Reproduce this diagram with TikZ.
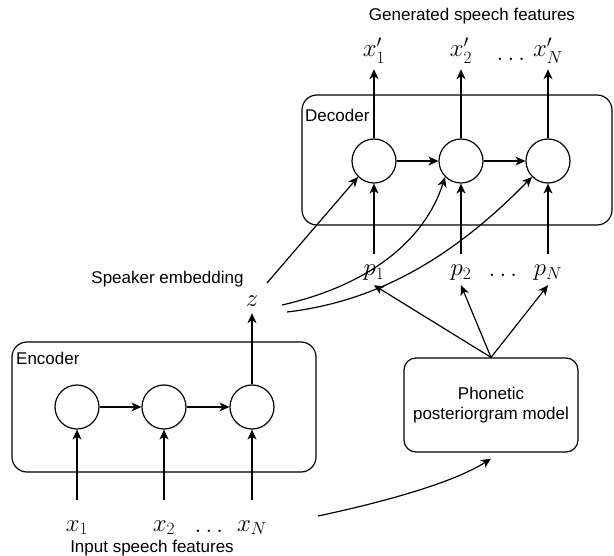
\documentclass[tikz,border=0pt]{standalone}
\usepackage[no-math]{fontspec}
\setmainfont{Liberation Sans}
\usetikzlibrary{arrows.meta}
\tikzset{
  arr/.style={-{Stealth[length=10pt,width=9pt,inset=3pt]}, line width=1.2pt},
  cell/.style={circle, draw, line width=1.2pt, minimum size=44pt, inner sep=0pt},
  panel/.style={draw, line width=1.2pt, rounded corners=15pt, inner sep=0pt},
  txt/.style={font=\fontsize{17}{20}\selectfont, inner sep=0pt, align=center},
  sym/.style={font=\fontsize{26}{30}\selectfont, inner sep=0pt, anchor=base},
}
\begin{document}
\begin{tikzpicture}[x=1pt, y=-1pt]
\useasboundingbox (0,0) rectangle (614,556);

% panels
\node[panel, minimum width=304pt, minimum height=130pt] (enc) at (164,407) {};
\node[panel, minimum width=310pt, minimum height=130pt] (dec) at (457,160) {};
\node[panel, rounded corners=12pt, minimum width=174pt, minimum height=94pt, txt] (ph) at (491,405)
  {Phonetic\\posteriorgram model};
\node[txt, anchor=base west] (enclab) at (16,365) {Encoder};
\node[txt, anchor=base west] (declab) at (305,122) {Decoder};

% texts
\node[txt, anchor=base] (gen) at (472,21) {Generated speech features};
\node[txt, anchor=base] (spk) at (167.5,284) {Speaker embedding};
\node[txt, anchor=base] (inp) at (152,552.5) {Input speech features};

% decoder cells
\node[cell] (d1) at (374,161) {};
\node[cell] (d2) at (461,161) {};
\node[cell] (d3) at (548,161) {};

% encoder cells
\node[cell] (e1) at (77,407) {};
\node[cell] (e2) at (164,407) {};
\node[cell] (e3) at (252,407) {};

% outputs
\node[sym, text depth=12pt] (xo1) at (374,57) {$x'_1$};
\node[sym, text depth=12pt] (xo2) at (461,57) {$x'_2$};
\node[sym, text depth=12pt] (xoN) at (548,57) {$x'_N$};
\node[sym] (dtop) at (511,61) {$\ldots$};

% phonetic posteriorgrams
\node[sym, text height=22pt, text depth=9pt] (p1) at (374,276) {$p_1$};
\node[sym, text height=22pt, text depth=9pt] (p2) at (461,276) {$p_2$};
\node[sym, text height=22pt, text depth=9pt] (pN) at (548,276) {$p_N$};
\node[sym] (dmid) at (503,277) {$\ldots$};

% speaker embedding
\node[sym, text depth=6pt] (z) at (252,307) {$z$};

% inputs
\node[sym, text height=31pt] (x1) at (77,531) {$x_1$};
\node[sym, text height=31pt] (x2) at (164,531) {$x_2$};
\node[sym, text height=31pt] (xN) at (252,531) {$x_N$};
\node[sym] (dbot) at (209,532) {$\ldots$};

% free ends
\coordinate (zl) at (267,283);
\coordinate (zc1) at (282,305);
\coordinate (zc2) at (287,312);
\coordinate (bc) at (318,516);

% decoder connectors
\draw[arr] (d1) -- (d2);
\draw[arr] (d2) -- (d3);
\draw[arr] (d1.north) -- (xo1.south);
\draw[arr] (d2.north) -- (xo2.south);
\draw[arr] (d3.north) -- (xoN.south);
\draw[arr] (p1.north) -- (d1.south);
\draw[arr] (p2.north) -- (d2.south);
\draw[arr] (pN.north) -- (d3.south);

% phonetic model to p
\draw[arr] (ph.north) -- (p1.south);
\draw[arr] (ph.north) -- (p2.south);
\draw[arr] (ph.north) -- (pN.south);

% encoder connectors
\draw[arr] (e1) -- (e2);
\draw[arr] (e2) -- (e3);
\draw[arr] (x1.north) -- (e1.south);
\draw[arr] (x2.north) -- (e2.south);
\draw[arr] (xN.north) -- (e3.south);
\draw[arr] (e3.north) -- (z.south);

% speaker embedding to decoder
\draw[arr] (zl) -- (d1.south west);
\draw[arr] (zc1) .. controls (370,285) and (425,240) .. (d2.south west);
\draw[arr] (zc2) .. controls (390,300) and (465,245) .. (d3.south west);

% input to phonetic model
\draw[arr] (bc) .. controls (370,505) and (450,485) .. ([yshift=-6pt]ph.south);
\end{tikzpicture}
\end{document}
